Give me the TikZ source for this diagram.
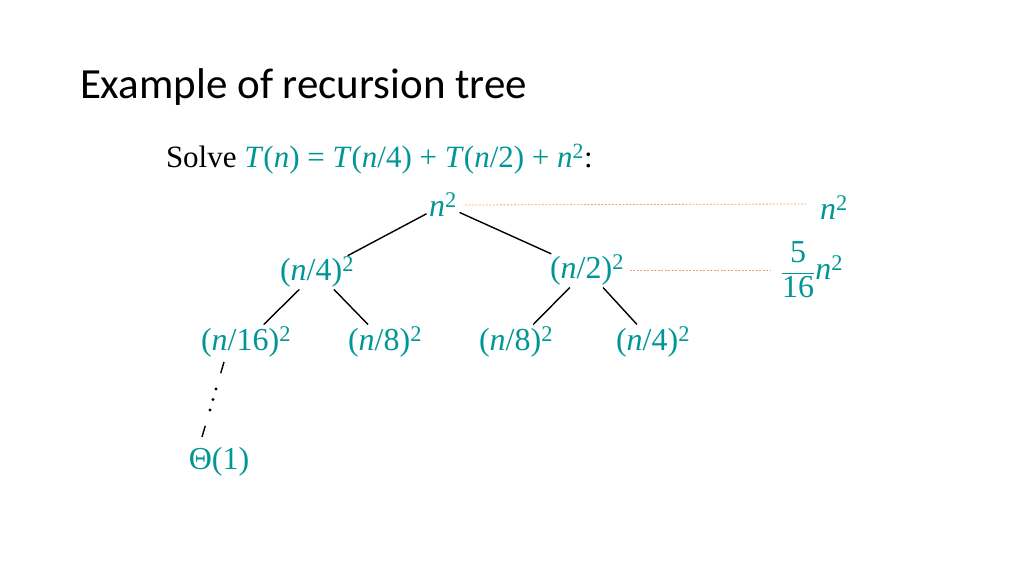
\documentclass[tikz,border=0pt]{standalone}
\usepackage{amsmath}
\usepackage{fontspec}
\setmainfont{Liberation Serif}
\newfontfamily\titlefont{Carlito}
\usetikzlibrary{calc}
\definecolor{teal}{RGB}{0,150,150}
\definecolor{guide}{RGB}{240,160,120}
\newcommand{\nv}{\textit{n}}
\newcommand{\sq}{\textsuperscript{2}}

\begin{document}
\begin{tikzpicture}[x=1pt,y=1pt,inner sep=0pt,outer sep=0pt,
    term/.style={text=teal,font=\fontsize{32}{36}\selectfont},
    edge/.style={line width=1.4pt,black},
    level/.style={draw=guide,dash pattern=on 2pt off 1.5pt,line width=0.8pt}]
    \useasboundingbox (0,0) rectangle (1024,576);

    % title and equation
    \node[anchor=base west] (title) at (80,477)
    {\titlefont\fontsize{43}{48}\selectfont Example of recursion tree};
    \node[anchor=base west] (solve) at (166,408)
    {\fontsize{31}{34}\selectfont Solve \textcolor{teal}{\textit{T}(\nv) = \textit{T}(\nv/4) + \textit{T}(\nv/2) + \nv\sq}:};

    % tree
    \node[term] (root) at (443,371) {\nv\sq};
    \node[term] (l) at (317,304) {(\nv/4)\sq};
    \node[term] (r) at (587,306) {(\nv/2)\sq};
    \node[term] (ll) at (246,234) {(\nv/16)\sq};
    \node[term] (lr) at (385,234) {(\nv/8)\sq};
    \node[term] (rl) at (516,234) {(\nv/8)\sq};
    \node[term] (rr) at (653,234) {(\nv/4)\sq};
    \node[term] (leaf) at (219,114) {Θ(1)};

    % sums
    \node[term] (sum1) at (834,368) {\nv\sq};
    \node[term] (sum2) at (812,306) {$\dfrac{\text{5}}{\text{16}}$\nv\sq};

    \draw[edge,shorten <=3pt,shorten >=2pt] (root) -- (l);
    \draw[edge,shorten <=3pt,shorten >=2pt] (root) -- (r);
    \draw[edge,shorten <=3pt,shorten >=3pt] (l) -- (ll);
    \draw[edge,shorten <=3pt,shorten >=3pt] (l) -- (lr);
    \draw[edge,shorten <=3pt,shorten >=3pt] (r) -- (rl);
    \draw[edge,shorten <=3pt,shorten >=3pt] (r) -- (rr);

    % chain to the leaf
    \coordinate (top) at (224,214);
    \coordinate (bot) at (202,139);
    \draw[edge] (top) -- ($(top)!0.15!(bot)$);
    \draw[edge] ($(top)!0.85!(bot)$) -- (bot);
    \foreach \t in {0.36,0.5,0.64}
      \fill ($(top)!\t!(bot)$) circle (1.6pt);

    \draw[level] (root.east) ++(8,0) -- ($(sum1.west)+(-14,4)$);
    \draw[level] (r.east) ++(6,0) -- ($(sum2.west)+(-10,0)$);
\end{tikzpicture}
\end{document}
